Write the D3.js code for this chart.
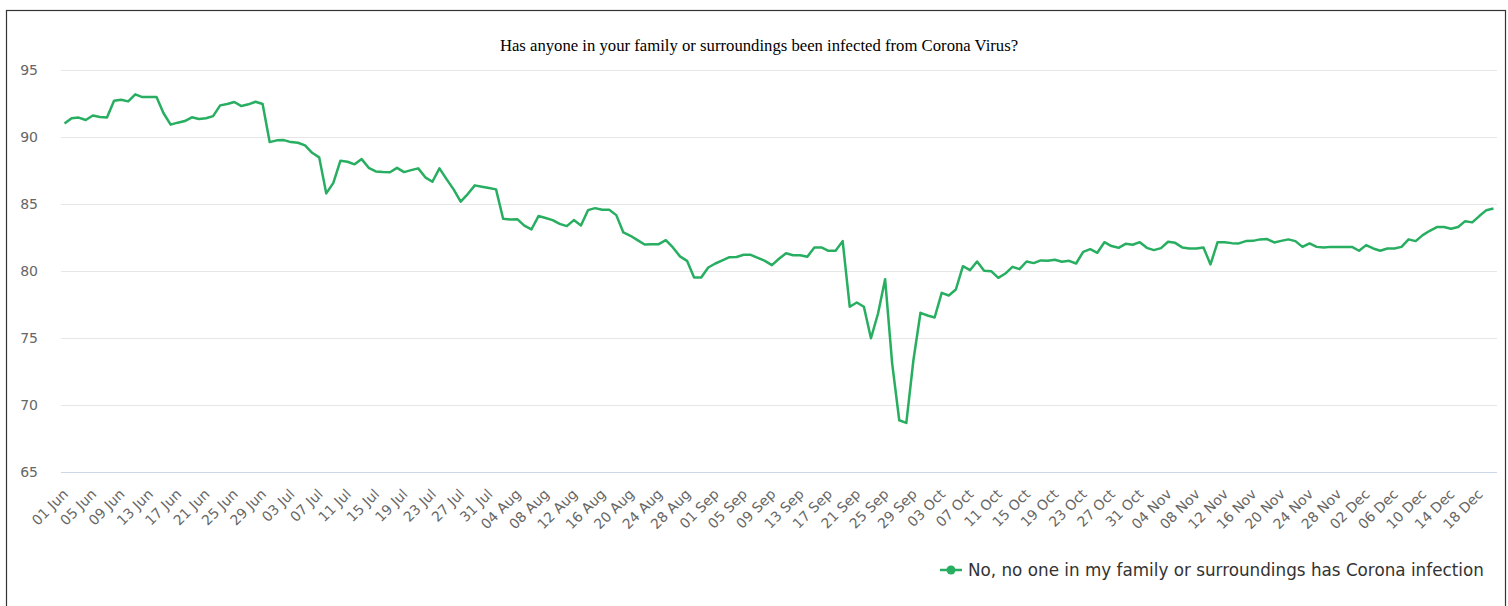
<!DOCTYPE html>
<html>
<head>
<meta charset="utf-8">
<script src="https://cdn.jsdelivr.net/npm/d3@7"></script>
<style>
  body { margin: 0; background: #fff; }
  text { font-family: "DejaVu Sans", sans-serif; }
</style>
</head>
<body>
<script>
let title = 'Has anyone in your family or surroundings been infected from Corona Virus?';
let seriesName = 'No, no one in my family or surroundings has Corona infection';

// one category per day, 01 Jun .. 20 Dec
let categories = d3.timeDay.range(new Date(2020, 5, 1), new Date(2020, 11, 21))
  .map(d3.timeFormat('%d %b'));

let values = [
  91.0, 91.4, 91.45, 91.27, 91.6, 91.5, 91.45, 92.7, 92.78, 92.66,
  93.18, 92.98, 92.98, 92.98, 91.77, 90.92, 91.07, 91.19, 91.47, 91.34,
  91.4, 91.56, 92.36, 92.46, 92.61, 92.31, 92.44, 92.63, 92.46, 89.62,
  89.75, 89.77, 89.62, 89.57, 89.37, 88.82, 88.48, 85.79, 86.58, 88.23,
  88.15, 87.96, 88.35, 87.7, 87.43, 87.38, 87.37, 87.7, 87.38, 87.53,
  87.66, 86.99, 86.66, 87.66, 86.86, 86.09, 85.17, 85.74, 86.39, 86.29,
  86.19, 86.09, 83.9, 83.85, 83.87, 83.38, 83.1, 84.1, 83.95, 83.8,
  83.52, 83.35, 83.8, 83.4, 84.54, 84.69, 84.57, 84.57, 84.17, 82.88,
  82.63, 82.3, 81.98, 82.0, 82.0, 82.3, 81.76, 81.09, 80.76, 79.52,
  79.52, 80.26, 80.56, 80.79, 81.03, 81.05, 81.21, 81.21, 80.98, 80.76,
  80.44, 80.91, 81.33, 81.18, 81.18, 81.06, 81.76, 81.76, 81.51, 81.51,
  82.23, 77.33, 77.65, 77.33, 74.98, 76.83, 79.39, 73.09, 68.86, 68.66,
  73.34, 76.88, 76.68, 76.53, 78.37, 78.17, 78.62, 80.36, 80.06, 80.71,
  80.01, 79.99, 79.49, 79.81, 80.31, 80.14, 80.71, 80.59, 80.79, 80.76,
  80.84, 80.69, 80.76, 80.56, 81.43, 81.63, 81.36, 82.15, 81.86, 81.73,
  82.03, 81.96, 82.15, 81.73, 81.56, 81.71, 82.18, 82.1, 81.76, 81.68,
  81.68, 81.76, 80.49, 82.15, 82.15, 82.08, 82.06, 82.23, 82.25, 82.36,
  82.38, 82.13, 82.25, 82.36, 82.23, 81.8, 82.06, 81.8, 81.75, 81.8,
  81.8, 81.8, 81.8, 81.51, 81.93, 81.68, 81.51, 81.68, 81.68, 81.8,
  82.36, 82.23, 82.68, 83.0, 83.28, 83.28, 83.15, 83.28, 83.72, 83.63,
  84.1, 84.54, 84.67
];

let yTicks = [65, 70, 75, 80, 85, 90, 95];
let lineColor = '#27ae60';

let svg = d3.select('body')
  .append('svg')
  .attr('width', 1508)
  .attr('height', 606);

let plotLeft = 61, plotRight = 1497, plotTop = 70, plotBottom = 472;

let x = d3.scalePoint()
  .domain(categories)
  .range([plotLeft, plotRight])
  .padding(0.5);

let y = d3.scaleLinear()
  .domain([65, 95])
  .range([plotBottom, plotTop]);

// outer frame
svg.append('rect')
  .attr('x', 6.5)
  .attr('y', 10.5)
  .attr('width', 1499)
  .attr('height', 620)
  .attr('fill', 'none')
  .attr('stroke', '#333')
  .attr('stroke-width', 1.2);

svg.append('text')
  .attr('x', 759)
  .attr('y', 51)
  .attr('text-anchor', 'middle')
  .style('font-family', '"Liberation Serif", "Times New Roman", serif')
  .style('font-size', '16.7px')
  .attr('fill', '#000')
  .text(title);

drawAxes();
drawLine();
drawLegend();


function drawAxes() {
  let yAxis = svg.append('g')
    .attr('transform', `translate(${plotLeft},0)`)
    .call(d3.axisLeft(y).tickValues(yTicks).tickSize(-(plotRight - plotLeft)).tickPadding(23));
  yAxis.select('.domain').remove();
  yAxis.selectAll('.tick line')
    .attr('stroke', d => d === 65 ? '#ccd6eb' : '#e6e6e6');
  yAxis.selectAll('.tick text')
    .attr('fill', '#666')
    .style('font-size', '14px')
    .style('font-family', '"DejaVu Sans", sans-serif');

  let shown = categories.filter((c, i) => i % 4 === 0);
  let xAxis = svg.append('g')
    .attr('transform', `translate(0,${plotBottom})`)
    .call(d3.axisBottom(x).tickValues(shown).tickSize(0));
  xAxis.select('.domain').remove();
  xAxis.selectAll('.tick text')
    .attr('fill', '#666')
    .style('font-size', '14px')
    .style('font-family', '"DejaVu Sans", sans-serif')
    .attr('text-anchor', 'end')
    .attr('dy', null)
    .attr('y', 0)
    .attr('transform', 'translate(4,23) rotate(-45)');
}

function drawLine() {
  let line = d3.line()
    .x((d, i) => x(categories[i]))
    .y(d => y(d));
  svg.append('path')
    .datum(values)
    .attr('d', line)
    .attr('fill', 'none')
    .attr('stroke', lineColor)
    .attr('stroke-width', 2.5)
    .attr('stroke-linejoin', 'round');
}

function drawLegend() {
  let g = svg.append('g').attr('transform', 'translate(940,570)');
  g.append('line')
    .attr('x1', 0).attr('x2', 22)
    .attr('stroke', lineColor)
    .attr('stroke-width', 2.5);
  g.append('circle')
    .attr('cx', 11)
    .attr('r', 4.5)
    .attr('fill', lineColor);
  g.append('text')
    .attr('x', 28)
    .attr('y', 6)
    .attr('fill', '#333')
    .style('font-size', '16.8px')
    .text(seriesName);
}
</script>
</body>
</html>
